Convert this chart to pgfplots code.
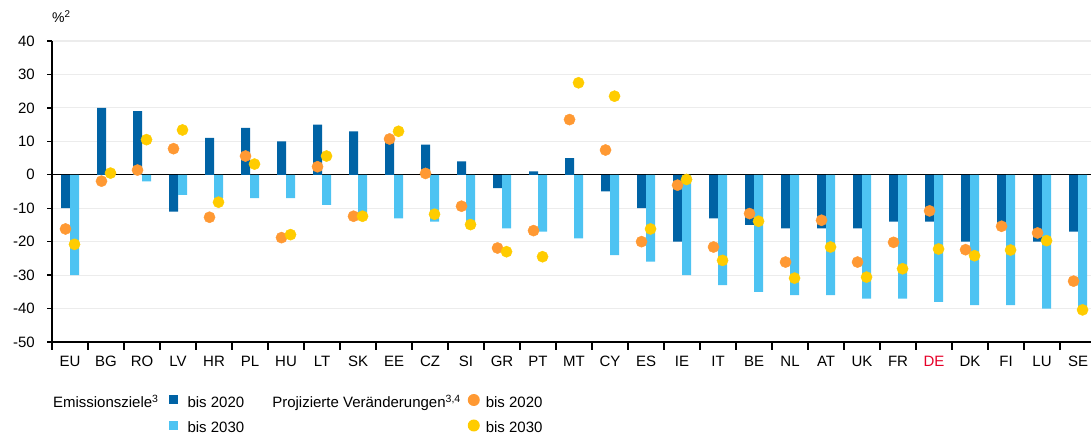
\documentclass[border=0pt]{standalone}
\usepackage{fontspec}
\setmainfont{Liberation Sans}
\usepackage{pgfplots}
\usepackage{pgfplotstable}
\pgfplotsset{compat=1.18}
\definecolor{dblue}{RGB}{0,99,165}
\definecolor{lblue}{RGB}{77,195,242}
\definecolor{orng}{RGB}{255,153,51}
\definecolor{yell}{RGB}{255,204,0}
\definecolor{dered}{RGB}{230,0,40}
\definecolor{gridgray}{RGB}{236,236,236}

\pgfplotstableread{
x  t20  t30  p20    p30
0  -10  -30  -16.2  -20.8
1   20    0   -1.9    0.5
2   19   -2    1.4   10.5
3  -11   -6    7.8   13.4
4   11   -7  -12.7   -8.2
5   14   -7    5.6    3.2
6   10   -7  -18.8  -17.9
7   15   -9    2.4    5.6
8   13  -12  -12.4  -12.4
9   11  -13   10.7   13.0
10   9  -14    0.4  -11.8
11   4  -15   -9.4  -14.9
12  -4  -16  -21.9  -23.0
13   1  -17  -16.7  -24.5
14   5  -19   16.5   27.5
15  -5  -24    7.4   23.5
16 -10  -26  -20.0  -16.2
17 -20  -30   -3.1   -1.4
18 -13  -33  -21.6  -25.6
19 -15  -35  -11.6  -13.9
20 -16  -36  -26.1  -30.9
21 -16  -36  -13.6  -21.6
22 -16  -37  -26.1  -30.6
23 -14  -37  -20.2  -28.1
24 -14  -38  -10.8  -22.2
25 -20  -39  -22.4  -24.2
26 -16  -39  -15.4  -22.5
27 -20  -40  -17.4  -19.7
28 -17  -40  -31.8  -40.4
}\data

\begin{document}
\fontsize{15}{18}\selectfont
\begin{tikzpicture}
\useasboundingbox (-52pt,-93pt) rectangle (1039pt,342pt);
\begin{axis}[
  at={(0pt,0pt)}, anchor=south west,
  scale only axis, width=1039pt, height=301pt,
  xmin=-0.5, xmax=28.36, ymin=-50, ymax=40,
  axis lines*=left,
  axis line style={black, line width=1.3pt},
  xtick={0,...,28},
  xticklabels={EU,BG,RO,LV,HR,PL,HU,LT,SK,EE,CZ,SI,GR,PT,MT,CY,ES,IE,IT,BE,NL,AT,UK,FR,{\color{dered}DE},DK,FI,LU,SE},
  minor xtick={-0.5,0.5,...,27.5},
  major x tick style={draw=none},
  minor x tick style={black, line width=1.3pt},
  minor tick length=8pt,
  major tick length=5pt,
  tick align=outside,
  y tick style={black, line width=1.3pt},
  ytick={-50,-40,...,40},
  yticklabels={-50,-40,-30,-20,-10,0,10,20,30,40},
  ymajorgrids,
  grid style={gridgray, line width=1.2pt},
  extra y ticks={0},
  extra y tick labels={},
  extra y tick style={grid style={black, line width=1pt}, major tick length=0pt},
  tick label style={font=\fontsize{15}{18}\selectfont},
  xticklabel style={yshift=-4pt},
  yticklabel style={xshift=-7pt},
  legend columns=4,
  legend cell align=left,
  legend style={draw=none, fill=none, at={(0,0)}, anchor=north west,
    xshift=1pt, yshift=-52pt, inner sep=0pt, outer sep=0pt,
    row sep=9pt,
    nodes={inner sep=0pt, text height=11pt, text depth=3pt},
    font=\fontsize{15}{18}\selectfont},
]
\addplot[ybar, bar width=9pt, bar shift=-4.5pt, fill=dblue, draw=none, forget plot] table[x=x, y=t20]{\data};
\addplot[ybar, bar width=9pt, bar shift=4.5pt, fill=lblue, draw=none, forget plot] table[x=x, y=t30]{\data};
\addplot[only marks, mark=*, mark size=5.6pt, mark options={draw=orng, fill=orng}, forget plot] table[x expr=\thisrow{x}-0.125, y=p20]{\data};
\addplot[only marks, mark=*, mark size=5.6pt, mark options={draw=yell, fill=yell}, forget plot] table[x expr=\thisrow{x}+0.125, y=p30]{\data};

\addlegendimage{empty legend}\addlegendentry{Emissionsziele\textsuperscript{3}}
\addlegendimage{legend image code/.code={\path[draw=none,fill=none] (0pt,0pt) -- (29pt,0pt); \fill[dblue, draw=none] (10pt,-1pt) rectangle (19pt,8pt);}}\addlegendentry{bis 2020}
\addlegendimage{legend image code/.code={\path[draw=none,fill=none] (0pt,0pt) -- (28pt,0pt);}}\addlegendentry{Projizierte Veränderungen\textsuperscript{3,4}}
\addlegendimage{legend image code/.code={\path[draw=none,fill=none] (0pt,0pt) -- (25pt,0pt); \fill[orng, draw=none] (13pt,3.5pt) circle (6pt);}}\addlegendentry{bis 2020}
\addlegendimage{empty legend}\addlegendentry{}
\addlegendimage{legend image code/.code={\path[draw=none,fill=none] (0pt,0pt) -- (29pt,0pt); \fill[lblue, draw=none] (10pt,-1pt) rectangle (19pt,8pt);}}\addlegendentry{bis 2030}
\addlegendimage{legend image code/.code={\path[draw=none,fill=none] (0pt,0pt) -- (28pt,0pt);}}\addlegendentry{}
\addlegendimage{legend image code/.code={\path[draw=none,fill=none] (0pt,0pt) -- (25pt,0pt); \fill[yell, draw=none] (13pt,3.5pt) circle (6pt);}}\addlegendentry{bis 2030}
\end{axis}
\node[anchor=base west, inner sep=0pt, font=\fontsize{14}{16}\selectfont] at (0pt,319pt) {\%\textsuperscript{2}};
\end{tikzpicture}
\end{document}
